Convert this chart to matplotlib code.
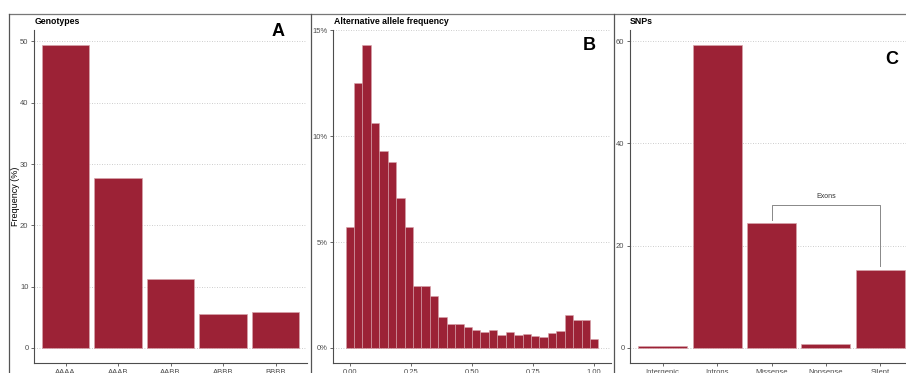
import matplotlib
matplotlib.use("Agg")
import matplotlib.pyplot as plt
from matplotlib.lines import Line2D
import numpy as np

plt.rcParams['font.family'] = ['Liberation Sans', 'DejaVu Sans']

# panel A - genotypes
geno_labels = ["AAAA", "AAAB", "AABB", "ABBB", "BBBB"]
geno_freq = [49.4, 27.8, 11.3, 5.6, 5.8]

# panel B - alternative allele frequency histogram (30 bins, % of SNPs)
af_heights = [5.7, 12.5, 14.3, 10.6, 9.3, 8.8, 7.1, 5.7, 2.9, 2.9,
              2.45, 1.48, 1.13, 1.13, 0.99, 0.85, 0.75, 0.85, 0.63, 0.74,
              0.6, 0.66, 0.57, 0.53, 0.72, 0.79, 1.54, 1.32, 1.3, 0.42]
af_ticks = [0.0, 0.25, 0.5, 0.75, 1.0]
af_ticklabels = ["0.00", "0.25", "0.50", "0.75", "1.00"]
pct_ticks = [0, 5, 10, 15]

# panel C - SNP classes
snp_labels = ["Intergenic", "Introns", "Missense", "Nonsense", "Silent"]
snp_counts = [0.3, 59.2, 24.4, 0.8, 15.3]

W, H = 906, 373
BAR = '#9c2236'
EDGE = '#d7a3ab'
AXC = '#4d4d4d'


def fx(px):
    return px / W


def fy(py):
    return (H - py) / H


def make_ax(left, right, top=30, bottom=363):
    ax = fig.add_axes([fx(left), fy(bottom), (right - left) / W, (bottom - top) / H])
    for s in ['top', 'right']:
        ax.spines[s].set_visible(False)
    for s in ['left', 'bottom']:
        ax.spines[s].set_color(AXC)
        ax.spines[s].set_linewidth(0.8)
    ax.tick_params(direction='out', length=2.5, width=0.6, color=AXC,
                   labelsize=5.5, labelcolor=AXC, pad=1.5)
    ax.yaxis.grid(True, linestyle=(0, (1, 2)), color='#bdbdbd', lw=0.6)
    ax.set_axisbelow(True)
    return ax


fig = plt.figure(figsize=(W / 100, H / 100), dpi=100)

# panel borders
fig.add_artist(Line2D([fx(9), 1], [fy(14), fy(14)], color='#777777', lw=0.9))
for x in [9, 311, 614]:
    fig.add_artist(Line2D([fx(x), fx(x)], [fy(14), 0], color='#555555', lw=0.9))

# A
axA = make_ax(34, 307)
xa = np.arange(1, 6)
axA.bar(xa, geno_freq, width=0.9, color=BAR, edgecolor=EDGE, linewidth=0.5)
axA.set_xlim(0.4, 5.6)
axA.set_ylim(-2.47, 51.87)
axA.set_xticks(xa)
axA.set_xticklabels(geno_labels)
axA.set_yticks([0, 10, 20, 30, 40, 50])
fig.text(fx(35), fy(24.5), "Genotypes", fontsize=6.3, fontweight='bold', ha='left', va='baseline')
fig.text(fx(278), fy(36), "A", fontsize=13, fontweight='bold', ha='center', va='baseline')
fig.text(fx(15), fy(196), "Frequency (%)", fontsize=6.5, rotation=90, ha='center', va='center')

# B
axB = make_ax(333, 611)
centers = np.arange(len(af_heights)) / (len(af_heights) - 1)
bw = 1 / (len(af_heights) - 1)
axB.bar(centers, af_heights, width=bw, color=BAR, edgecolor=EDGE, linewidth=0.4)
axB.set_xlim(-0.069, 1.069)
axB.set_ylim(-0.715, 15.015)
axB.set_xticks(af_ticks)
axB.set_xticklabels(af_ticklabels)
axB.set_yticks(pct_ticks)
axB.set_yticklabels([f"{t}%" for t in pct_ticks])
fig.text(fx(334), fy(24.5), "Alternative allele frequency", fontsize=6.3, fontweight='bold', ha='left', va='baseline')
fig.text(fx(589), fy(50), "B", fontsize=13, fontweight='bold', ha='center', va='baseline')

# C
axC = make_ax(630, 913)
xc = np.arange(1, 6)
axC.bar(xc, snp_counts, width=0.9, color=BAR, edgecolor=EDGE, linewidth=0.5)
axC.set_xlim(0.4, 5.6)
axC.set_ylim(-2.96, 62.16)
axC.set_xticks(xc)
axC.set_xticklabels(snp_labels)
axC.set_yticks([0, 20, 40, 60])
# bracket over exonic classes
axC.plot([3, 3, 5, 5], [25.0, 28.0, 28.0, 16.1], color='#888888', lw=0.7, clip_on=False)
axC.text(4, 28.9, "Exons", fontsize=5, color='#333333', ha='center', va='bottom')
fig.text(fx(630), fy(24.5), "SNPs", fontsize=6.3, fontweight='bold', ha='left', va='baseline')
fig.text(fx(892), fy(64), "C", fontsize=13, fontweight='bold', ha='center', va='baseline')

fig.savefig("out.png", dpi=100)
